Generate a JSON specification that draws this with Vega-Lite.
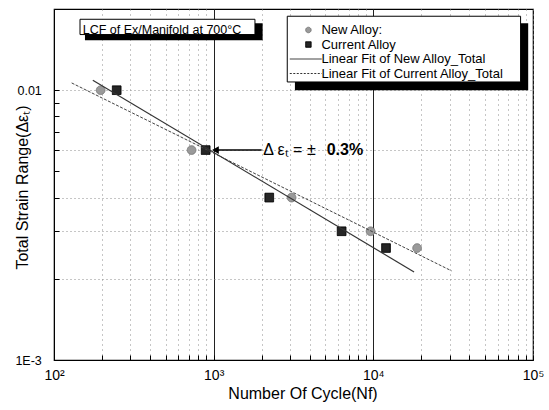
{
  "$schema": "https://vega.github.io/schema/vega-lite/v6.json",
  "width": 479,
  "height": 351,
  "autosize": {"type": "none"},
  "padding": {"left": 54, "top": 9, "right": 16, "bottom": 50},
  "background": "white",
  "config": {
    "view": {"stroke": "#000", "strokeWidth": 1.2},
    "font": "Liberation Sans",
    "axis": {
      "domainColor": "#000",
      "tickColor": "#000",
      "labelColor": "#000",
      "titleColor": "#000",
      "labelFont": "Liberation Sans",
      "titleFont": "Liberation Sans",
      "titleFontWeight": "normal",
      "tickSize": -5,
      "tickWidth": 1,
      "titleFontSize": 16
    },
    "legend": {
      "orient": "none",
      "legendX": 247.9,
      "legendY": 14.5,
      "labelFont": "Liberation Sans",
      "labelFontSize": 13,
      "labelColor": "#000",
      "labelLimit": 400,
      "labelOffset": 6.5,
      "symbolSize": 30,
      "symbolStrokeWidth": 1,
      "rowPadding": 0.5,
      "padding": 0,
      "symbolOpacity": 1
    }
  },
  "datasets": {
    "points": [
      {"series": "New Alloy:", "N": 196, "strain": 0.01},
      {"series": "New Alloy:", "N": 727, "strain": 0.006},
      {"series": "New Alloy:", "N": 3075, "strain": 0.004},
      {"series": "New Alloy:", "N": 9610, "strain": 0.003},
      {"series": "New Alloy:", "N": 18800, "strain": 0.0026},
      {"series": "Current Alloy", "N": 247, "strain": 0.01},
      {"series": "Current Alloy", "N": 891, "strain": 0.006},
      {"series": "Current Alloy", "N": 2230, "strain": 0.004},
      {"series": "Current Alloy", "N": 6330, "strain": 0.003},
      {"series": "Current Alloy", "N": 12000, "strain": 0.0026}
    ],
    "fitNew": [
      {"N": 129, "strain": 0.01064},
      {"N": 30900, "strain": 0.00214}
    ],
    "fitCurrent": [
      {"N": 175, "strain": 0.01089},
      {"N": 18000, "strain": 0.00212}
    ],
    "anno": [{}]
  },
  "layer": [
    {
      "data": {"name": "points"},
      "mark": {"type": "point", "size": 75, "opacity": 1, "strokeWidth": 1},
      "encoding": {
        "x": {
          "field": "N", "type": "quantitative",
          "scale": {"type": "log", "domain": [100, 100000]},
          "axis": {
            "values": [100, 200, 300, 400, 500, 600, 700, 800, 900, 1000, 2000, 3000, 4000, 5000, 6000, 7000, 8000, 9000, 10000, 20000, 30000, 40000, 50000, 60000, 70000, 80000, 90000, 100000],
            "labelExpr": "datum.value == 100 ? '10²' : datum.value == 1000 ? '10³' : datum.value == 10000 ? '10⁴' : datum.value == 100000 ? '10⁵' : ''",
            "labelFlush": false,
            "labelOverlap": false,
            "labelFontSize": 14,
            "labelPadding": 13,
            "title": "Number Of Cycle(Nf)",
            "titleX": 248.5,
            "titleY": 38,
            "titleBaseline": "alphabetic",
            "titleAlign": "center",
            "grid": true,
            "gridWidth": 1,
            "gridColor": {"condition": {"test": "datum.value == 1000 || datum.value == 10000", "value": "#222"}, "value": "#8c8c8c"},
            "gridDash": {"condition": {"test": "datum.value == 1000 || datum.value == 10000", "value": []}, "value": [1, 4]}
          }
        },
        "y": {
          "field": "strain", "type": "quantitative",
          "scale": {"type": "log", "domain": [0.001, 0.02]},
          "axis": {
            "values": [0.001, 0.002, 0.003, 0.004, 0.005, 0.006, 0.007, 0.008, 0.009, 0.01, 0.02],
            "labelExpr": "datum.value == 0.01 ? '0.01' : datum.value == 0.001 ? '1E-3' : ''",
            "labelOverlap": false,
            "labelFontSize": 12.5,
            "labelPadding": 17.7,
            "title": "Total Strain Range(Δεₜ)",
            "titleX": -32,
            "titleY": 178,
            "titleAngle": -90,
            "titleAlign": "center",
            "titleBaseline": "middle",
            "grid": true,
            "gridColor": "#8c8c8c",
            "gridDash": [1, 3],
            "gridOpacity": {"condition": {"test": "indexof([0.002, 0.003, 0.004, 0.006, 0.01], datum.value) >= 0", "value": 1}, "value": 0}
          }
        },
        "shape": {
          "field": "series", "type": "nominal",
          "scale": {"domain": ["New Alloy:", "Current Alloy", "Linear Fit of New Alloy_Total", "Linear Fit of Current Alloy_Total"], "range": ["circle", "square", "M-6.8,0H4.85", "M-6.8,0H4.85"]},
          "legend": {"title": null}
        },
        "fill": {
          "field": "series", "type": "nominal",
          "scale": {"domain": ["New Alloy:", "Current Alloy", "Linear Fit of New Alloy_Total", "Linear Fit of Current Alloy_Total"], "range": ["#9a9a9a", "#262626", "transparent", "transparent"]},
          "legend": {"title": null}
        },
        "stroke": {
          "field": "series", "type": "nominal",
          "scale": {"domain": ["New Alloy:", "Current Alloy", "Linear Fit of New Alloy_Total", "Linear Fit of Current Alloy_Total"], "range": ["#7a7a7a", "#000000", "#333333", "#333333"]},
          "legend": {"title": null}
        },
        "strokeDash": {
          "field": "series", "type": "nominal",
          "scale": {"domain": ["New Alloy:", "Current Alloy", "Linear Fit of New Alloy_Total", "Linear Fit of Current Alloy_Total"], "range": [[1, 0], [1, 0], [1, 0], [2, 1.5]]},
          "legend": {"title": null}
        }
      }
    },
    {
      "data": {"name": "fitNew"},
      "mark": {"type": "line", "stroke": "#444", "strokeWidth": 1, "strokeDash": [3, 1.5]},
      "encoding": {
        "x": {"field": "N", "type": "quantitative", "scale": {"type": "log", "domain": [100, 100000]}},
        "y": {"field": "strain", "type": "quantitative", "scale": {"type": "log", "domain": [0.001, 0.02]}}
      }
    },
    {
      "data": {"name": "fitCurrent"},
      "mark": {"type": "line", "stroke": "#333", "strokeWidth": 1.2},
      "encoding": {
        "x": {"field": "N", "type": "quantitative", "scale": {"type": "log", "domain": [100, 100000]}},
        "y": {"field": "strain", "type": "quantitative", "scale": {"type": "log", "domain": [0.001, 0.02]}}
      }
    },
    {
      "data": {"name": "anno"},
      "mark": {"type": "rule", "stroke": "#000", "strokeWidth": 1.5},
      "encoding": {
        "x": {"datum": 1004, "type": "quantitative", "scale": {"type": "log", "domain": [100, 100000]}},
        "x2": {"datum": 1998},
        "y": {"datum": 0.006, "type": "quantitative", "scale": {"type": "log", "domain": [0.001, 0.02]}}
      }
    },
    {
      "data": {"name": "anno"},
      "mark": {"type": "point", "shape": "triangle-left", "size": 60, "filled": true, "color": "#000", "opacity": 1},
      "encoding": {
        "x": {"datum": 1026, "type": "quantitative", "scale": {"type": "log", "domain": [100, 100000]}},
        "y": {"datum": 0.006, "type": "quantitative", "scale": {"type": "log", "domain": [0.001, 0.02]}}
      }
    },
    {
      "data": {"name": "anno"},
      "mark": {"type": "text", "font": "Liberation Sans", "fontSize": 16, "align": "left", "baseline": "middle", "color": "#000"},
      "encoding": {
        "x": {"datum": 2045, "type": "quantitative", "scale": {"type": "log", "domain": [100, 100000]}},
        "y": {"datum": 0.006, "type": "quantitative", "scale": {"type": "log", "domain": [0.001, 0.02]}},
        "text": {"value": "Δ εₜ = ±"}
      }
    },
    {
      "data": {"name": "anno"},
      "mark": {"type": "text", "font": "Liberation Sans", "fontSize": 16, "fontWeight": "bold", "align": "left", "baseline": "middle", "color": "#000"},
      "encoding": {
        "x": {"datum": 5100, "type": "quantitative", "scale": {"type": "log", "domain": [100, 100000]}},
        "y": {"datum": 0.006, "type": "quantitative", "scale": {"type": "log", "domain": [0.001, 0.02]}},
        "text": {"value": "0.3%"}
      }
    },
    {
      "data": {"name": "anno"},
      "mark": {"type": "rect", "fill": "#000"},
      "encoding": {
        "x": {"datum": 156.3, "type": "quantitative", "scale": {"type": "log", "domain": [100, 100000]}},
        "x2": {"datum": 2026},
        "y": {"datum": 0.01531, "type": "quantitative", "scale": {"type": "log", "domain": [0.001, 0.02]}},
        "y2": {"datum": 0.01771}
      }
    },
    {
      "data": {"name": "anno"},
      "mark": {"type": "rect", "fill": "#fff", "stroke": "#000", "strokeWidth": 1},
      "encoding": {
        "x": {"datum": 145.5, "type": "quantitative", "scale": {"type": "log", "domain": [100, 100000]}},
        "x2": {"datum": 1814},
        "y": {"datum": 0.01608, "type": "quantitative", "scale": {"type": "log", "domain": [0.001, 0.02]}},
        "y2": {"datum": 0.01832}
      }
    },
    {
      "data": {"name": "anno"},
      "mark": {"type": "text", "font": "Liberation Sans", "fontSize": 12.5, "align": "left", "baseline": "alphabetic", "color": "#000"},
      "encoding": {
        "x": {"datum": 151.3, "type": "quantitative", "scale": {"type": "log", "domain": [100, 100000]}},
        "y": {"datum": 0.01622, "type": "quantitative", "scale": {"type": "log", "domain": [0.001, 0.02]}},
        "text": {"value": "LCF of Ex/Manifold at 700°C"}
      }
    },
    {
      "data": {"name": "anno"},
      "mark": {"type": "rect", "fill": "#000"},
      "encoding": {
        "x": {"datum": 3228, "type": "quantitative", "scale": {"type": "log", "domain": [100, 100000]}},
        "x2": {"datum": 93300},
        "y": {"datum": 0.01, "type": "quantitative", "scale": {"type": "log", "domain": [0.001, 0.02]}},
        "y2": {"datum": 0.01771}
      }
    },
    {
      "data": {"name": "anno"},
      "mark": {"type": "rect", "fill": "#fff", "stroke": "#000", "strokeWidth": 1},
      "encoding": {
        "x": {"datum": 2890, "type": "quantitative", "scale": {"type": "log", "domain": [100, 100000]}},
        "x2": {"datum": 83600},
        "y": {"datum": 0.01073, "type": "quantitative", "scale": {"type": "log", "domain": [0.001, 0.02]}},
        "y2": {"datum": 0.0188}
      }
    }
  ]
}
